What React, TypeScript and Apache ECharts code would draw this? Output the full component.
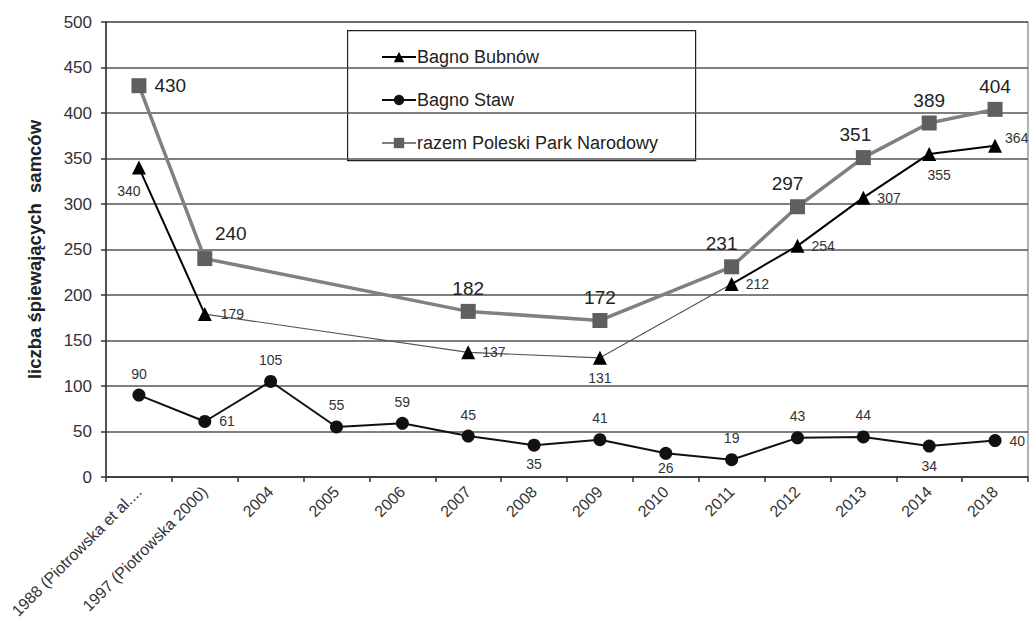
import React, { useEffect, useRef } from "react";
import * as echarts from "echarts";

const categories = [
  "1988 (Piotrowska et al....",
  "1997 (Piotrowska 2000)",
  "2004", "2005", "2006", "2007", "2008", "2009", "2010", "2011", "2012", "2013", "2014", "2018",
];
const bubnow: (number | null)[] = [340, 179, null, null, null, 137, null, 131, null, 212, 254, 307, 355, 364];
const staw: number[] = [90, 61, 105, 55, 59, 45, 35, 41, 26, 19, 43, 44, 34, 40];
const razem: (number | null)[] = [430, 240, null, null, null, 182, null, 172, null, 231, 297, 351, 389, 404];
const yTicks = { min: 0, max: 500, interval: 50 };

const FONT = "'Liberation Sans', Arial, sans-serif";

// label placements (styling only)
const bubPos: any[] = [
  { position: "bottom", offset: [-10, 4] },
  { position: "right", offset: [4, 0] }, null, null, null,
  { position: "right", offset: [2, 0] }, null,
  { position: "bottom", distance: 6 }, null,
  { position: "right", offset: [2, 0] },
  { position: "right", offset: [2, 0] },
  { position: "right", offset: [2, 0] },
  { position: "bottom", offset: [10, 2] },
  { position: "right", offset: [-2, -8] },
];
const stawPos: any[] = [
  { position: "top" }, { position: "right" }, { position: "top" }, { position: "top" }, { position: "top" },
  { position: "top" }, { position: "bottom", distance: 5 }, { position: "top" }, { position: "bottom", distance: 1 },
  { position: "top" }, { position: "top" }, { position: "top" }, { position: "bottom", distance: 6 }, { position: "right" },
];
const razemPos: any[] = [
  { position: "right", offset: [2, 0] },
  { position: "top", offset: [26, -2] }, null, null, null,
  { position: "top" }, null, { position: "top" }, null,
  { position: "top", offset: [-10, 0] },
  { position: "top", offset: [-10, 0] },
  { position: "top", offset: [-8, 0] },
  { position: "top" },
  { position: "top" },
];

export default function App() {
  const ref = useRef<HTMLDivElement>(null);
  useEffect(() => {
    if (!ref.current) return;
    const chart = echarts.init(ref.current, undefined, { renderer: "svg" });

    const connector = bubnow.map((v, i) => (i >= 1 && i <= 9 ? v : null));
    const mainBub = bubnow.map((v, i) => (i >= 2 && i <= 8 ? null : v));
    const bubMain = mainBub.map((v, i) =>
      v == null ? null : { value: v, label: { show: true, ...(bubPos[i] || {}) } }
    );
    const isolated = bubnow.map((v, i) =>
      i >= 2 && i <= 8 && v != null ? { value: v, label: { show: true, ...(bubPos[i] || {}) } } : null
    );

    const stawData = staw.map((v, i) => ({ value: v, label: { show: true, ...stawPos[i] } }));
    const razemData = razem.map((v, i) =>
      v == null ? null : { value: v, label: { show: true, ...(razemPos[i] || {}) } }
    );

    const smallLabel = { fontFamily: FONT, fontSize: 14, color: "#333" };

    chart.setOption({
      animation: false,
      backgroundColor: "#fff",
      textStyle: { fontFamily: FONT },
      grid: { left: 106, right: 4, top: 22, bottom: 149, show: true, borderColor: "#999", borderWidth: 1.5 },
      xAxis: {
        type: "category",
        data: categories,
        boundaryGap: true,
        axisLine: { lineStyle: { color: "#333", width: 1.5 } },
        axisTick: { show: true, alignWithLabel: false, length: 5, lineStyle: { color: "#333", width: 1.5 } },
        axisLabel: { rotate: 45, fontSize: 16, color: "#333", fontFamily: FONT, interval: 0, margin: 12 },
        splitLine: { show: false },
      },
      yAxis: {
        type: "value",
        min: yTicks.min,
        max: yTicks.max,
        interval: yTicks.interval,
        name: "liczba śpiewających  samców",
        nameLocation: "middle",
        nameGap: 62,
        nameTextStyle: { fontFamily: FONT, fontSize: 18.5, fontWeight: "bold", color: "#222" },
        axisLine: { show: true, lineStyle: { color: "#333", width: 1.5 } },
        axisTick: { show: true, length: 5, lineStyle: { color: "#333", width: 1.5 } },
        axisLabel: { fontSize: 17, color: "#333", fontFamily: FONT, margin: 14 },
        splitLine: { lineStyle: { color: "#555", width: 1.5 } },
      },
      legend: {
        orient: "vertical",
        left: 376,
        top: 43,
        itemGap: 25,
        itemWidth: 34,
        itemHeight: 13,
        textStyle: { fontFamily: FONT, fontSize: 18, color: "#222", padding: [0, 0, 0, -4] },
        data: ["Bagno Bubnów", "Bagno Staw", "razem Poleski Park Narodowy"],
      },
      graphic: [
        {
          type: "rect",
          left: 347,
          top: 30,
          shape: { width: 348, height: 130 },
          style: { fill: "#fff", stroke: "#222", lineWidth: 1.2 },
          z: 0,
        },
      ],
      series: [
        {
          name: "bub-connector",
          type: "line",
          data: connector,
          connectNulls: true,
          showSymbol: false,
          symbol: "none",
          lineStyle: { color: "#555", width: 1.2 },
          z: 2,
          silent: true,
        },
        {
          name: "Bagno Bubnów",
          type: "line",
          data: bubMain,
          connectNulls: false,
          symbol: "triangle",
          symbolSize: 14,
          itemStyle: { color: "#000" },
          lineStyle: { color: "#000", width: 2 },
          label: { ...smallLabel },
          z: 3,
        },
        {
          name: "Bagno Bubnów",
          type: "line",
          data: isolated,
          connectNulls: false,
          symbol: "triangle",
          symbolSize: 14,
          itemStyle: { color: "#000" },
          lineStyle: { width: 0 },
          label: { ...smallLabel },
          z: 3,
        },
        {
          name: "Bagno Staw",
          type: "line",
          data: stawData,
          symbol: "circle",
          symbolSize: 13,
          itemStyle: { color: "#111" },
          lineStyle: { color: "#111", width: 2 },
          label: { ...smallLabel, distance: 8 },
          z: 3,
        },
        {
          name: "razem Poleski Park Narodowy",
          type: "line",
          data: razemData,
          connectNulls: true,
          symbol: "rect",
          symbolSize: 15,
          itemStyle: { color: "#5f5f5f" },
          lineStyle: { color: "#808080", width: 3.5 },
          label: { fontFamily: FONT, fontSize: 19, color: "#222", distance: 6 },
          z: 4,
        },
      ],
    });
    return () => chart.dispose();
  }, []);
  return <div ref={ref} style={{ width: 1032, height: 626, position: "absolute", left: 0, top: 0 }} />;
}
